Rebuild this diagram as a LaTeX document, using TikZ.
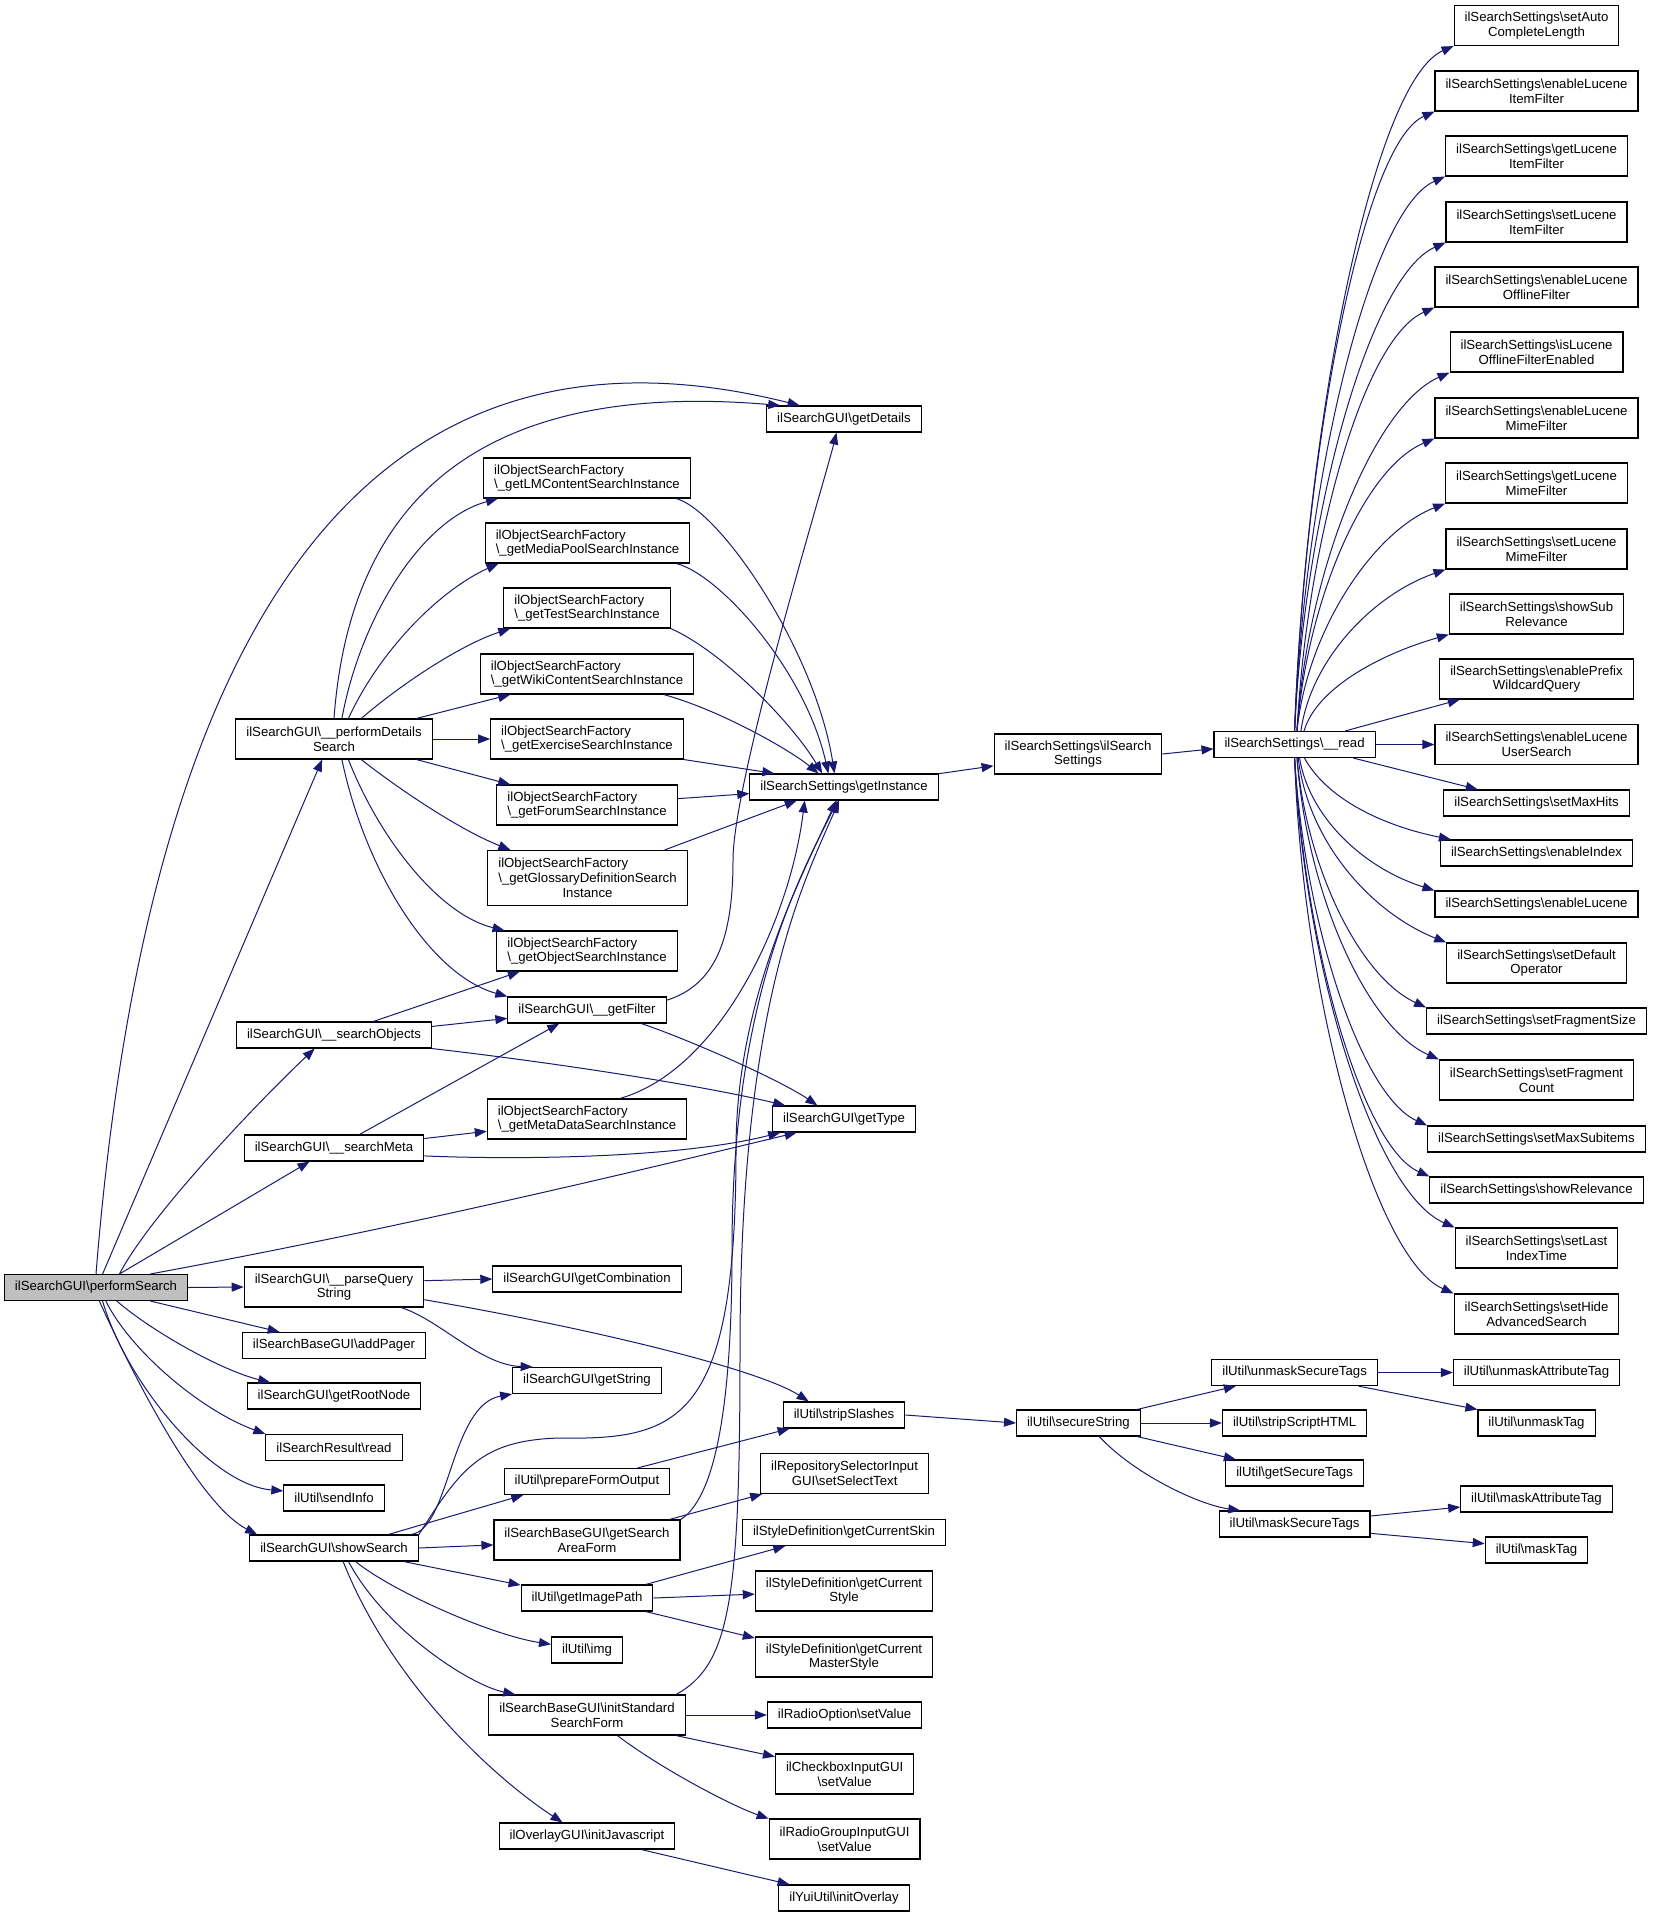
\documentclass[tikz,border=0pt]{standalone}
\usepackage{fontspec}
\setmainfont{Liberation Sans}
\usetikzlibrary{arrows.meta}
\definecolor{edgeblue}{HTML}{191970}
\definecolor{rootgray}{HTML}{BFBFBF}
\newcommand{\bsl}{\textbackslash}

\begin{document}
\begin{tikzpicture}[x=1pt, y=-1pt,
    fnbox/.style={draw=black, line width=1.1pt, rectangle, inner xsep=10.5pt, inner ysep=2pt,
      minimum height=26pt, align=center, font=\fontsize{13.2}{14.8}\selectfont},
    twoline/.style={minimum height=40pt},
    threeline/.style={minimum height=55pt},
    factory/.style={twoline, align=left},
    callarrow/.style={color=edgeblue, line width=1pt, -{Triangle[length=12pt,width=9pt]}}]

      \useasboundingbox (0,0) rectangle (1652,1917);

      \begin{scope}[every node/.style={fnbox}]
        \node[fill=rootgray] (ps) at (96,1287.5) {ilSearchGUI\bsl performSearch};

        \node[twoline] (pds)   at (334,739)    {ilSearchGUI\bsl\_\_performDetails\\Search};
        \node          (sobj)  at (334,1035)   {ilSearchGUI\bsl\_\_searchObjects};
        \node          (smeta) at (334,1148)   {ilSearchGUI\bsl\_\_searchMeta};
        \node[twoline] (pq)    at (334,1287)   {ilSearchGUI\bsl\_\_parseQuery\\String};
        \node          (pager) at (334,1345.5) {ilSearchBaseGUI\bsl addPager};
        \node          (root)  at (334,1396)   {ilSearchGUI\bsl getRootNode};
        \node          (sres)  at (334,1447.5) {ilSearchResult\bsl read};
        \node          (info)  at (334,1498)   {ilUtil\bsl sendInfo};
        \node          (show)  at (334,1548)   {ilSearchGUI\bsl showSearch};

        \node[factory]   (lm)     at (587,478)    {ilObjectSearchFactory\\\bsl\_getLMContentSearchInstance};
        \node[factory]   (media)  at (587.5,543)  {ilObjectSearchFactory\\\bsl\_getMediaPoolSearchInstance};
        \node[factory]   (test)   at (587,608)    {ilObjectSearchFactory\\\bsl\_getTestSearchInstance};
        \node[factory]   (wiki)   at (587,674)    {ilObjectSearchFactory\\\bsl\_getWikiContentSearchInstance};
        \node[factory]   (exer)   at (587,739)    {ilObjectSearchFactory\\\bsl\_getExerciseSearchInstance};
        \node[factory]   (forum)  at (587,805)    {ilObjectSearchFactory\\\bsl\_getForumSearchInstance};
        \node[threeline] (gloss)  at (587.5,878)  {\rlap{ilObjectSearchFactory}\phantom{\bsl\_getGlossaryDefinitionSearch}\\\bsl\_getGlossaryDefinitionSearch\\Instance};
        \node[factory]   (objf)   at (587,951)    {ilObjectSearchFactory\\\bsl\_getObjectSearchInstance};
        \node            (filter) at (587,1010)   {ilSearchGUI\bsl\_\_getFilter};
        \node[factory]   (metaf)  at (587,1119)   {ilObjectSearchFactory\\\bsl\_getMetaDataSearchInstance};
        \node            (comb)   at (587,1279)   {ilSearchGUI\bsl getCombination};
        \node            (str)    at (587,1380.5) {ilSearchGUI\bsl getString};
        \node            (prep)   at (587,1481.5) {ilUtil\bsl prepareFormOutput};
        \node[twoline]   (area)   at (587,1540)   {ilSearchBaseGUI\bsl getSearch\\AreaForm};
        \node            (imgpath) at (587,1598)  {ilUtil\bsl getImagePath};
        \node            (img)    at (587,1650)   {ilUtil\bsl img};
        \node[twoline]   (isf)    at (587,1715)   {ilSearchBaseGUI\bsl initStandard\\SearchForm};
        \node            (js)     at (587,1836)   {ilOverlayGUI\bsl initJavascript};

        \node          (det)     at (844,419)    {ilSearchGUI\bsl getDetails};
        \node          (inst)    at (844,787)    {ilSearchSettings\bsl getInstance};
        \node          (type)    at (844,1119)   {ilSearchGUI\bsl getType};
        \node          (strip)   at (844,1415)   {ilUtil\bsl stripSlashes};
        \node[twoline] (repo)    at (844.6,1473.5) {ilRepositorySelectorInput\\GUI\bsl setSelectText};
        \node          (skin)    at (844,1532.5) {ilStyleDefinition\bsl getCurrentSkin};
        \node[twoline] (style)   at (844,1591)   {ilStyleDefinition\bsl getCurrent\\Style};
        \node[twoline] (master)  at (844,1657)   {ilStyleDefinition\bsl getCurrent\\MasterStyle};
        \node          (radio)   at (844.6,1715) {ilRadioOption\bsl setValue};
        \node[twoline] (check)   at (844.7,1774) {ilCheckboxInputGUI\\\bsl setValue};
        \node[twoline] (rgroup)  at (844.6,1839) {ilRadioGroupInputGUI\\\bsl setValue};
        \node          (overlay) at (844,1898)   {ilYuiUtil\bsl initOverlay};

        \node[twoline] (ssc)    at (1078,754)    {ilSearchSettings\bsl ilSearch\\Settings};
        \node          (secure) at (1078.4,1423) {ilUtil\bsl secureString};

        \node (read)      at (1294.6,744.5)  {ilSearchSettings\bsl\_\_read};
        \node (unmask)    at (1294.6,1372.5) {ilUtil\bsl unmaskSecureTags};
        \node (striphtml) at (1294.6,1423)   {ilUtil\bsl stripScriptHTML};
        \node (gettags)   at (1294.6,1473)   {ilUtil\bsl getSecureTags};
        \node (mask)      at (1294.6,1524)   {ilUtil\bsl maskSecureTags};

        \node[twoline] (s1)  at (1536.5,25.5) {ilSearchSettings\bsl setAuto\\CompleteLength};
        \node[twoline] (s2)  at (1536.5,91)   {ilSearchSettings\bsl enableLucene\\ItemFilter};
        \node[twoline] (s3)  at (1536.5,156)  {ilSearchSettings\bsl getLucene\\ItemFilter};
        \node[twoline] (s4)  at (1536.5,222)  {ilSearchSettings\bsl setLucene\\ItemFilter};
        \node[twoline] (s5)  at (1536.5,287)  {ilSearchSettings\bsl enableLucene\\OfflineFilter};
        \node[twoline] (s6)  at (1536.5,352)  {ilSearchSettings\bsl isLucene\\OfflineFilterEnabled};
        \node[twoline] (s7)  at (1536.5,418)  {ilSearchSettings\bsl enableLucene\\MimeFilter};
        \node[twoline] (s8)  at (1536.5,483)  {ilSearchSettings\bsl getLucene\\MimeFilter};
        \node[twoline] (s9)  at (1536.5,549)  {ilSearchSettings\bsl setLucene\\MimeFilter};
        \node[twoline] (s10) at (1536.5,614)  {ilSearchSettings\bsl showSub\\Relevance};
        \node[twoline] (s11) at (1536.5,679)  {ilSearchSettings\bsl enablePrefix\\WildcardQuery};
        \node[twoline] (s12) at (1536.5,744.5) {ilSearchSettings\bsl enableLucene\\UserSearch};
        \node          (s13) at (1536.5,803)  {ilSearchSettings\bsl setMaxHits};
        \node          (s14) at (1536.5,853)  {ilSearchSettings\bsl enableIndex};
        \node          (s15) at (1536.5,904)  {ilSearchSettings\bsl enableLucene};
        \node[twoline] (s16) at (1536.5,963)  {ilSearchSettings\bsl setDefault\\Operator};
        \node          (s17) at (1536.5,1021) {ilSearchSettings\bsl setFragmentSize};
        \node[twoline] (s18) at (1536.5,1080) {ilSearchSettings\bsl setFragment\\Count};
        \node          (s19) at (1536.5,1139) {ilSearchSettings\bsl setMaxSubitems};
        \node          (s20) at (1536.5,1190) {ilSearchSettings\bsl showRelevance};
        \node[twoline] (s21) at (1536.5,1248) {ilSearchSettings\bsl setLast\\IndexTime};
        \node[twoline] (s22) at (1536.5,1314) {ilSearchSettings\bsl setHide\\AdvancedSearch};

        \node (unattr) at (1536.5,1372.5) {ilUtil\bsl unmaskAttributeTag};
        \node (untag)  at (1536.5,1423)   {ilUtil\bsl unmaskTag};
        \node (mattr)  at (1536.5,1499)   {ilUtil\bsl maskAttributeTag};
        \node (mtag)   at (1536.5,1550)   {ilUtil\bsl maskTag};
      \end{scope}

      \begin{scope}[callarrow]
        \draw (ps.north) .. controls (150,600) and (380,300) .. (det.163);
        \draw (ps.64) -- (pds.240);
        \draw (ps.30) .. controls (150,1215) and (260,1100) .. (sobj.215);
        \draw (ps.30) -- (smeta.209);
        \draw (ps.14) .. controls (400,1228) and (620,1175) .. (type.196);
        \draw (ps.east) -- (pq.west);
        \draw (ps.-14) -- (pager.166);
        \draw (ps.-33) .. controls (150,1330) and (220,1370) .. (root.168);
        \draw (ps.-54) .. controls (130,1350) and (200,1410) .. (sres.north west);
        \draw (ps.-64) .. controls (125,1380) and (210,1485) .. (info.172);
        \draw (ps.-76) .. controls (135,1380) and (200,1505) .. (show.170);

        \draw (pds.north) .. controls (350,500) and (480,380) .. (det.168);
        \draw (pds.69) .. controls (360,620) and (420,520) .. (lm.193);
        \draw (pds.55) .. controls (380,650) and (440,590) .. (media.193);
        \draw (pds.37) .. controls (400,685) and (460,645) .. (test.195);
        \draw (pds.14) -- (wiki.195);
        \draw (pds.east) -- (exer.west);
        \draw (pds.-14) -- (forum.165);
        \draw (pds.-37) .. controls (400,790) and (460,830) .. (gloss.160);
        \draw (pds.-55) .. controls (380,840) and (440,915) .. (objf.166);
        \draw (pds.-69) .. controls (365,870) and (430,975) .. (filter.north west);

        \draw (lm.-13) .. controls (720,510) and (815,650) .. (inst.125);
        \draw (media.-13) .. controls (720,575) and (805,670) .. (inst.139);
        \draw (test.south east) .. controls (720,650) and (790,720) .. (inst.148);
        \draw (wiki.-15) .. controls (720,710) and (790,750) .. (inst.152);
        \draw (exer.south east) -- (inst.169);
        \draw (forum.4) -- (inst.184);
        \draw (gloss.20) -- (inst.196);
        \draw (metaf.32) .. controls (720,1070) and (790,920) .. (inst.199);

        \draw (filter.7) .. controls (715,985) and (733,940) .. (733,860)
              .. controls (733,780) and (825,480) .. (det.241);
        \draw (filter.-14) .. controls (690,1040) and (780,1080) .. (type.153);

        \draw (sobj.19) -- (objf.197);
        \draw (sobj.5) -- (filter.186);
        \draw (sobj.south east) .. controls (550,1062) and (700,1085) .. (type.167);
        \draw (smeta.28) -- (filter.206);
        \draw (smeta.6) -- (metaf.187);
        \draw (smeta.-5) .. controls (520,1160) and (680,1158) .. (type.192);

        \draw (pq.4) -- (comb.west);
        \draw (pq.-17) .. controls (440,1320) and (480,1365) .. (str.166);
        \draw (pq.-8) .. controls (600,1330) and (760,1370) .. (strip.159);

        \draw (show.10) .. controls (450,1530) and (450,1405) .. (str.south west);
        \draw (show.9) .. controls (460,1470) and (480,1440) .. (560,1438)
              .. controls (680,1440) and (736,1420) .. (736,1150)
              .. controls (736,1000) and (800,880) .. (inst.240);
        \draw (show.14) -- (prep.192);
        \draw (show.east) -- (area.183);
        \draw (show.-11) -- (imgpath.169);
        \draw (show.-32) .. controls (390,1590) and (490,1635) .. (img.171);
        \draw (show.-43) .. controls (385,1630) and (470,1685) .. (isf.164);
        \draw (show.-56) .. controls (390,1680) and (490,1775) .. (js.151);

        \draw (prep.15) -- (strip.194);
        \draw (strip.east) -- (secure.west);
        \draw (area.14) -- (repo.194);
        \draw (area.north east) .. controls (712,1500) and (732,1420) .. (732,1250)
              .. controls (732,1000) and (798,880) .. (inst.245);
        \draw (imgpath.13) -- (skin.193);
        \draw (imgpath.east) -- (style.182);
        \draw (imgpath.-13) -- (master.168);
        \draw (isf.east) -- (radio.west);
        \draw (isf.-13) -- (check.166);
        \draw (isf.-34) .. controls (660,1768) and (730,1805) .. (rgroup.165);
        \draw (isf.13) .. controls (730,1665) and (740,1600) .. (740,1350)
              .. controls (740,1000) and (805,880) .. (inst.250);
        \draw (js.-14) -- (overlay.166);

        \draw (inst.8) -- (ssc.188);
        \draw (ssc.east) -- (read.183);

        \draw (read.north) .. controls +(11,-310) and +(-80,35) .. (s1.south west);
        \draw (read.north) .. controls +(10,-280) and +(-72,32) .. (s2.south west);
        \draw (read.north) .. controls +(10,-250) and +(-75,33) .. (s3.south west);
        \draw (read.north) .. controls +(10,-220) and +(-75,33) .. (s4.south west);
        \draw (read.80) .. controls +(10,-190) and +(-71,31) .. (s5.south west);
        \draw (read.80) .. controls +(10,-160) and +(-75,33) .. (s6.south west);
        \draw (read.80) .. controls +(10,-130) and +(-71,30) .. (s7.south west);
        \draw (read.80) .. controls +(10,-100) and +(-72,28) .. (s8.south west);
        \draw (read.65) .. controls +(10,-72) and +(-72,25) .. (s9.south west);
        \draw (read.55) .. controls +(12,-42) and +(-70,20) .. (s10.south west);
        \draw (read.15) -- (s11.195);
        \draw (read.east) -- (s12.west);
        \draw (read.-13) -- (s13.167);
        \draw (read.-54) .. controls +(25,45) and +(-60,-12) .. (s14.171);
        \draw (read.-70) .. controls +(10,60) and +(-70,-22) .. (s15.north west);
        \draw (read.-75) .. controls +(10,84) and +(-75,-30) .. (s16.north west);
        \draw (read.-80) .. controls +(10,113) and +(-65,-30) .. (s17.north west);
        \draw (read.-80) .. controls +(10,136) and +(-72,-32) .. (s18.north west);
        \draw (read.south) .. controls +(10,166) and +(-66,-30) .. (s19.north west);
        \draw (read.south) .. controls +(10,189) and +(-67,-30) .. (s20.north west);
        \draw (read.south) .. controls +(10,212) and +(-80,-35) .. (s21.north west);
        \draw (read.south) .. controls +(8,242) and +(-79,-35) .. (s22.north west);

        \draw (secure.13) -- (unmask.193);
        \draw (secure.east) -- (striphtml.west);
        \draw (secure.-13) -- (gettags.167);
        \draw (secure.-33) .. controls (1135,1475) and (1200,1505) .. (mask.166);
        \draw (unmask.east) -- (unattr.west);
        \draw (unmask.-12) -- (untag.north west);
        \draw (mask.6) -- (mattr.186);
        \draw (mask.-7) -- (mtag.173);
      \end{scope}

    \end{tikzpicture}
\end{document}
